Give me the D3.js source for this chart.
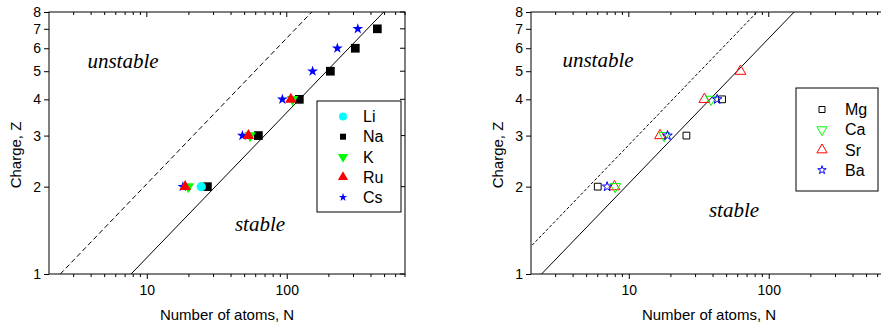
<!DOCTYPE html>
<html><head><meta charset="utf-8">
<script src="https://cdn.jsdelivr.net/npm/d3@7"></script>
<style>
body{margin:0;background:#fff;}
</style></head>
<body>
<svg id="c" width="881" height="325"></svg>
<script>
// ---- data ----
const zTicks = [1,2,3,4,5,6,7,8];
const xMajor = [10,100];
const xMinor = [3,4,5,6,7,8,9,20,30,40,50,60,70,80,90,200,300,400,500,600,700];

// left panel (filled markers)
const leftNames = ["Li","Na","K","Ru","Cs"];
const liN = [24.5],                          liZ = [2];
const naN = [27.1,62.7,123,205,309,444],     naZ = [2,3,4,5,6,7];
const kN  = [19.8,54.7,110],                 kZ  = [2,3,4];
const ruN = [18.8,53.2,107],                 ruZ = [2,3,4];
const csN = [18.1,48.2,93,153,230,322],      csZ = [2,3,4,5,6,7];

// right panel (open markers)
const rightNames = ["Mg","Ca","Sr","Ba"];
const mgN = [6.0,25.8,46.4],      mgZ = [2,3,4];
const caN = [8.0,17.9,38.7],      caZ = [2,3,4];
const srN = [7.9,16.7,34.7,62.8], srZ = [2,3,4,5];
const baN = [7.0,18.9,42.8],      baZ = [2,3,4];

// stability boundary lines, [N, Z] end points
const leftSolid   = [[7.72,1],[493,8]];
const leftDashed  = [[2.41,1],[151,8]];
const rightSolid  = [[2.38,1],[152,8]];
const rightDashed = [[1.29,1],[82.5,8]];

// ---- drawing ----
const SANS = "'Liberation Sans', Arial, sans-serif";
const SERIF = "'Liberation Serif', 'Times New Roman', 'DejaVu Serif', serif";
const svg = d3.select("#c");
const W = 356, H = 262;
const x = d3.scaleLog().domain([2,700]).range([0,W]);
const y = d3.scaleLog().domain([1,8]).range([H,0]);

function shape(g, type, size, fill, stroke, sw){
  const types = {circle:d3.symbolCircle,square:d3.symbolSquare,up:d3.symbolTriangle,down:d3.symbolTriangle,star:d3.symbolStar};
  const p = g.append("path").attr("d", d3.symbol().type(types[type]).size(size)());
  if(type==="down") p.attr("transform","rotate(180)");
  p.attr("fill", fill).attr("stroke", stroke).attr("stroke-width", sw);
  return p;
}

function panel(ox, id, series, lines, legend, labels){
  const g = svg.append("g").attr("transform",`translate(${ox},12)`);
  g.append("clipPath").attr("id","clip"+id).append("rect").attr("width",W).attr("height",H);
  const ln = d3.line().x(d=>x(d[0])).y(d=>y(d[1]));
  lines.forEach(l=>{
    g.append("path").attr("clip-path",`url(#clip${id})`).attr("d",ln(l.pts))
      .attr("fill","none").attr("stroke","#000").attr("stroke-width",1)
      .attr("stroke-dasharray",l.dash||null);
  });
  g.append("rect").attr("width",W).attr("height",H).attr("fill","none").attr("stroke","#000").attr("stroke-width",1);
  const ax = g.append("g").call(d3.axisLeft(y).tickValues(zTicks).tickFormat(d3.format("d")).tickSize(5).tickSizeOuter(0).tickPadding(3));
  ax.select(".domain").remove();
  ax.selectAll("text").attr("font-size",14).attr("font-family",SANS).attr("fill","#000");
  g.append("g").selectAll("line").data(zTicks).join("line")
    .attr("x1",W).attr("x2",W-5).attr("y1",d=>y(d)).attr("y2",d=>y(d)).attr("stroke","#000");
  const bx = g.append("g").attr("transform",`translate(0,${H})`)
    .call(d3.axisBottom(x).tickValues(xMajor).tickFormat(d3.format("d")).tickSize(5).tickSizeOuter(0).tickPadding(6));
  bx.select(".domain").remove();
  bx.selectAll("text").attr("font-size",14).attr("font-family",SANS).attr("fill","#000");
  g.append("g").selectAll("line").data(xMinor).join("line")
    .attr("x1",d=>x(d)).attr("x2",d=>x(d)).attr("y1",H).attr("y2",H+3).attr("stroke","#000");
  g.append("g").selectAll("line").data(xMajor.concat(xMinor)).join("line")
    .attr("x1",d=>x(d)).attr("x2",d=>x(d)).attr("y1",0).attr("y2",d=>xMajor.includes(d)?5:3).attr("stroke","#000");
  g.append("text").attr("x",W/2).attr("y",308).attr("text-anchor","middle")
    .attr("font-family",SANS).attr("font-size",15).text("Number of atoms, N");
  g.append("text").attr("transform",`translate(-28,143) rotate(-90)`).attr("text-anchor","middle")
    .attr("font-family",SANS).attr("font-size",15).text("Charge, Z");
  labels.forEach(t=>{
    g.append("text").attr("x",t.x-ox).attr("y",t.y-12).attr("text-anchor","middle")
      .attr("font-family",SERIF).attr("font-style","italic").attr("font-size",21).text(t.text);
  });
  series.forEach(s=>{
    s.N.forEach((n,i)=>{
      const m = g.append("g").attr("transform",`translate(${x(n)},${y(s.Z[i])})`);
      shape(m, s.type, s.size, s.fill, s.stroke, s.sw);
    });
  });
  const lg = g.append("g").attr("transform",`translate(${legend.x},${legend.y})`);
  lg.append("rect").attr("width",legend.w).attr("height",legend.h).attr("fill","#fff").attr("stroke","#000").attr("stroke-width",1);
  legend.order.forEach((s,i)=>{
    const yy = legend.first + i*legend.step;
    const m = lg.append("g").attr("transform",`translate(${legend.mx},${yy})`);
    shape(m, s.type, s.lsize, s.fill, s.stroke, s.sw);
    lg.append("text").attr("x",legend.tx).attr("y",yy).attr("dy","0.36em")
      .attr("font-family",SANS).attr("font-size",16).text(s.name);
  });
}

const LS = {
  Li:{name:"Li",N:liN,Z:liZ,type:"circle",size:68,lsize:50,fill:"#00ffff",stroke:"none",sw:0},
  Na:{name:"Na",N:naN,Z:naZ,type:"square",size:76,lsize:36,fill:"#000",stroke:"none",sw:0},
  K:{name:"K",N:kN,Z:kZ,type:"down",size:58,lsize:45,fill:"#00ff00",stroke:"none",sw:0},
  Ru:{name:"Ru",N:ruN,Z:ruZ,type:"up",size:58,lsize:45,fill:"#ff0000",stroke:"none",sw:0},
  Cs:{name:"Cs",N:csN,Z:csZ,type:"star",size:36,lsize:22,fill:"#0000ff",stroke:"none",sw:0}
};
const RS = {
  Mg:{name:"Mg",N:mgN,Z:mgZ,type:"square",size:46,lsize:36,fill:"none",stroke:"#000",sw:1},
  Ca:{name:"Ca",N:caN,Z:caZ,type:"down",size:50,lsize:45,fill:"none",stroke:"#00ff00",sw:1},
  Sr:{name:"Sr",N:srN,Z:srZ,type:"up",size:50,lsize:45,fill:"none",stroke:"#ff0000",sw:1},
  Ba:{name:"Ba",N:baN,Z:baZ,type:"star",size:28,lsize:22,fill:"none",stroke:"#0000ff",sw:1}
};

panel(49, "L",
  [LS.Na, LS.Cs, LS.K, LS.Ru, LS.Li],
  [{pts:leftSolid},{pts:leftDashed,dash:"5,3"}],
  {x:268,y:89,w:84,h:111,first:15.5,step:20.2,mx:26,tx:46,order:leftNames.map(n=>LS[n])},
  [{text:"unstable",x:123,y:68},{text:"stable",x:260,y:231}]);

panel(531, "R",
  [RS.Mg, RS.Sr, RS.Ca, RS.Ba],
  [{pts:rightSolid},{pts:rightDashed,dash:"3,2"}],
  {x:265,y:76,w:82,h:103,first:21.5,step:20.2,mx:26,tx:49,order:rightNames.map(n=>RS[n])},
  [{text:"unstable",x:598,y:67},{text:"stable",x:734,y:217}]);
</script>
</body></html>
